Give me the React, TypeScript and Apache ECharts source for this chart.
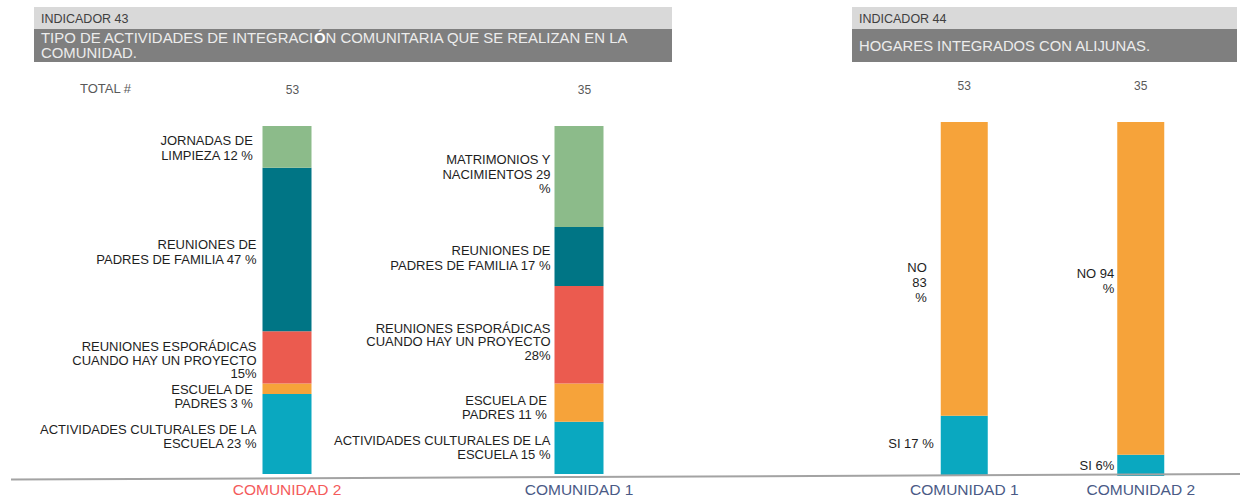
import React, { useEffect, useRef } from "react";
import * as echarts from "echarts";

// ---------- Indicador 43 ----------
const categoriesA = ["COMUNIDAD 2", "COMUNIDAD 1"];
const totalsA = ["53", "35"];
const actividadesCulturales = [23, 15];
const escuelaPadres = [3, 11];
const reunionesEsporadicas = [15, 28];
const reunionesPadres = [47, 17];
const actividadSuperior = [12, 29];

const labelsCulturales = ["ACTIVIDADES CULTURALES DE LA\nESCUELA 23 %", "ACTIVIDADES CULTURALES DE LA\nESCUELA 15 %"];
const labelsEscuela = ["ESCUELA DE \nPADRES 3 % ", "ESCUELA DE \nPADRES 11 % "];
const labelsEsporadicas = ["REUNIONES ESPORÁDICAS\nCUANDO HAY UN PROYECTO\n15%", "REUNIONES ESPORÁDICAS\nCUANDO HAY UN PROYECTO\n28%"];
const labelsPadres = ["REUNIONES DE\nPADRES DE FAMILIA 47 %", "REUNIONES DE\nPADRES DE FAMILIA 17 %"];
const labelsSuperior = ["JORNADAS DE \nLIMPIEZA 12 % ", "MATRIMONIOS Y\nNACIMIENTOS 29\n%"];

// ---------- Indicador 44 ----------
const categoriesB = ["COMUNIDAD 1", "COMUNIDAD 2"];
const totalsB = ["53", "35"];
const hogaresSi = [17, 6];
const hogaresNo = [83, 94];
const labelsSi = ["SI 17 %", "SI 6%"];
const labelsNo = ["NO\n83\n%", "NO 94\n%"];

// ---------- styling ----------
const FONT = "'Liberation Sans', Arial, sans-serif";
const C_GREEN = "#8cbb8a";
const C_TEAL = "#007585";
const C_RED = "#eb5b4f";
const C_ORANGE = "#f6a33a";
const C_CYAN = "#0aa8c0";
const CAT_RED = "#f45b5b";
const CAT_BLUE = "#4a5a86";
const LABEL_SIZE = 13;

// label nudges [dx, dy] per series per category (layout only)
const nudgeA: Record<string, number[][]> = {
  cult: [[0, 3], [0, 0]],
  esc: [[0, 8], [0, 5]],
  espo: [[0, 3], [0, 7]],
  padres: [[0, 2], [0, 1]],
  sup: [[0, 1], [0, -2]],
};
const nudgeB: Record<string, number[][]> = {
  si: [[0, -2], [0, 0]],
  no: [[-7, 14], [0, -7]],
};

function items(values: number[], labels: string[], offs: number[][], dist: number[], lh: number) {
  return values.map((v, i) => ({
    value: v,
    label: {
      show: true,
      position: "left",
      distance: dist[i],
      offset: offs[i],
      formatter: labels[i],
      fontSize: LABEL_SIZE,
      lineHeight: lh,
      color: "#1e1e1e",
      fontFamily: FONT,
      align: "right",
    },
  }));
}

export default function App() {
  const ref = useRef<HTMLDivElement>(null);
  useEffect(() => {
    if (!ref.current) return;
    const chart = echarts.init(ref.current, undefined, { renderer: "svg" });
    const distA = [6, 4];
    const option: any = {
      animation: false,
      backgroundColor: "#ffffff",
      textStyle: { fontFamily: FONT },
      grid: [
        { left: 141, width: 584, top: 126, bottom: 20 },
        { left: 876, width: 353, top: 122, bottom: 21 },
      ],
      xAxis: [
        {
          gridIndex: 0,
          type: "category",
          data: categoriesA.map((c, i) => ({
            value: c,
            textStyle: { color: i === 0 ? CAT_RED : CAT_BLUE },
          })),
          axisLine: { show: false },
          axisTick: { show: false },
          axisLabel: { fontSize: 15.5, margin: 7, fontFamily: FONT },
        },
        {
          gridIndex: 0,
          type: "category",
          position: "top",
          data: totalsA,
          axisLine: { show: false },
          axisTick: { show: false },
          axisLabel: { fontSize: 12, margin: 30, color: "#595959", fontFamily: FONT, padding: [0, 0, 0, 11] },
        },
        {
          gridIndex: 1,
          type: "category",
          data: categoriesB,
          axisLine: { show: false },
          axisTick: { show: false },
          axisLabel: { fontSize: 15.5, margin: 5, color: CAT_BLUE, fontFamily: FONT },
        },
        {
          gridIndex: 1,
          type: "category",
          position: "top",
          data: totalsB,
          axisLine: { show: false },
          axisTick: { show: false },
          axisLabel: { fontSize: 12, margin: 30, color: "#595959", fontFamily: FONT },
        },
      ],
      yAxis: [
        { gridIndex: 0, type: "value", min: 0, max: 100, show: false },
        { gridIndex: 1, type: "value", min: 0, max: 100, show: false },
      ],
      series: [
        { type: "bar", stack: "a", xAxisIndex: 0, yAxisIndex: 0, barWidth: 49, itemStyle: { color: C_CYAN }, data: items(actividadesCulturales, labelsCulturales, nudgeA.cult, distA, 14) },
        { type: "bar", stack: "a", xAxisIndex: 0, yAxisIndex: 0, barWidth: 49, itemStyle: { color: C_ORANGE }, data: items(escuelaPadres, labelsEscuela, nudgeA.esc, distA, 14) },
        { type: "bar", stack: "a", xAxisIndex: 0, yAxisIndex: 0, barWidth: 49, itemStyle: { color: C_RED }, data: items(reunionesEsporadicas, labelsEsporadicas, nudgeA.espo, distA, 13.5) },
        { type: "bar", stack: "a", xAxisIndex: 0, yAxisIndex: 0, barWidth: 49, itemStyle: { color: C_TEAL }, data: items(reunionesPadres, labelsPadres, nudgeA.padres, distA, 15) },
        { type: "bar", stack: "a", xAxisIndex: 0, yAxisIndex: 0, barWidth: 49, itemStyle: { color: C_GREEN }, data: items(actividadSuperior, labelsSuperior, nudgeA.sup, distA, 14.5) },
        { type: "bar", stack: "b", xAxisIndex: 2, yAxisIndex: 1, barWidth: 47, itemStyle: { color: C_CYAN }, data: items(hogaresSi, labelsSi, nudgeB.si, [7, 3], 15) },
        { type: "bar", stack: "b", xAxisIndex: 2, yAxisIndex: 1, barWidth: 47, itemStyle: { color: C_ORANGE }, data: items(hogaresNo, labelsNo, nudgeB.no, [7, 3], 15) },
      ],
      graphic: [
        { type: "rect", shape: { x: 34, y: 7, width: 638, height: 22 }, style: { fill: "#d9d9d9" } },
        { type: "rect", shape: { x: 34, y: 29, width: 638, height: 33 }, style: { fill: "#7f7f7f" } },
        { type: "text", x: 41, y: 19, style: { text: "INDICADOR 43", fill: "#404040", fontSize: 12.5, fontFamily: FONT, verticalAlign: "middle" } },
        {
          type: "text",
          x: 41,
          y: 30.5,
          style: {
            text: "TIPO DE ACTIVIDADES DE INTEGRACI{b|Ó}N COMUNITARIA QUE SE REALIZAN EN LA\nCOMUNIDAD.",
            fill: "#ececec",
            fontSize: 14.9,
            lineHeight: 15,
            fontFamily: FONT,
            verticalAlign: "top",
            rich: { b: { fill: "#ffffff", fontWeight: "bold", fontSize: 14.9, fontFamily: FONT, lineHeight: 15 } },
          },
        },
        { type: "rect", shape: { x: 852, y: 7, width: 385, height: 22 }, style: { fill: "#d9d9d9" } },
        { type: "rect", shape: { x: 852, y: 29, width: 385, height: 33 }, style: { fill: "#7f7f7f" } },
        { type: "text", x: 859, y: 19, style: { text: "INDICADOR 44", fill: "#404040", fontSize: 12.5, fontFamily: FONT, verticalAlign: "middle" } },
        { type: "text", x: 859, y: 46, style: { text: "HOGARES INTEGRADOS CON ALIJUNAS.", fill: "#ececec", fontSize: 14.8, fontFamily: FONT, verticalAlign: "middle" } },
        { type: "text", x: 80, y: 88, style: { text: "TOTAL #", fill: "#595959", fontSize: 13, fontFamily: FONT, verticalAlign: "middle" } },
        { type: "line", z: 100, shape: { x1: 11, y1: 479.5, x2: 1240, y2: 474 }, style: { stroke: "#a3a3a3", lineWidth: 2 } },
      ],
    };
    chart.setOption(option);
    return () => chart.dispose();
  }, []);
  return (
    <div
      ref={ref}
      style={{ position: "fixed", left: 0, top: 0, width: 1248, height: 497, background: "#fff" }}
    />
  );
}
